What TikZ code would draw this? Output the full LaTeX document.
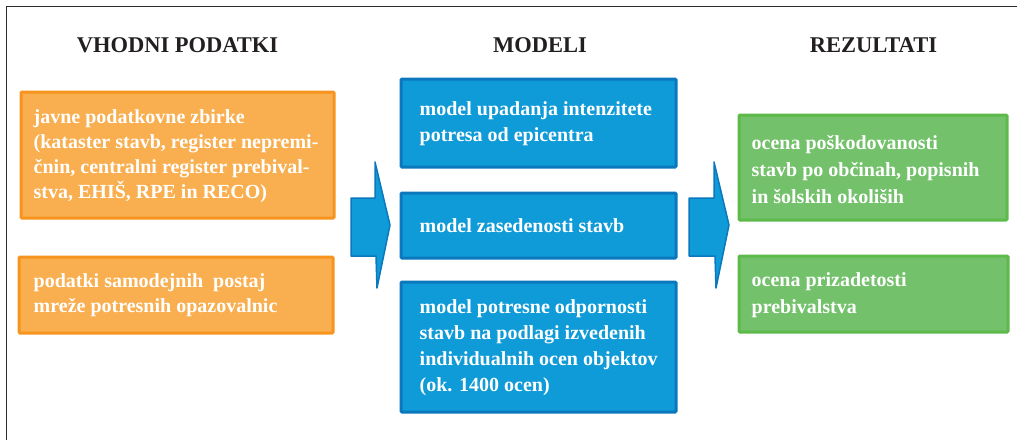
\documentclass[tikz,border=0pt]{standalone}
\usepackage{fontspec}
\setmainfont{Liberation Serif}
\definecolor{ofill}{HTML}{F9AF4F}
\definecolor{oline}{HTML}{F7941E}
\definecolor{bfill}{HTML}{0F9BD7}
\definecolor{bline}{HTML}{0B77BD}
\definecolor{gfill}{HTML}{73C16B}
\definecolor{gline}{HTML}{5DBA4A}
\definecolor{headc}{HTML}{231F20}
\definecolor{framec}{HTML}{2B2B2B}
\begin{document}
\begin{tikzpicture}[x=1pt,y=-1pt,
  boxbase/.style={rectangle, line width=3pt, rounded corners=1pt, inner sep=0pt},
  obox/.style={boxbase, draw=oline, fill=ofill},
  bbox/.style={boxbase, draw=bline, fill=bfill},
  gbox/.style={boxbase, draw=gline, fill=gfill},
  btext/.style={anchor=west, align=left, text=white, inner sep=0pt,
     font=\fontsize{20}{25}\selectfont\bfseries},
  otext/.style={btext, font=\fontsize{20}{25}\selectfont\bfseries},
  mtext/.style={btext, font=\fontsize{20}{26}\selectfont\bfseries},
  rtext/.style={btext, font=\fontsize{20}{26.8}\selectfont\bfseries},
  head/.style={font=\fontsize{22.5}{27}\selectfont\bfseries, text=headc, inner sep=0pt},
  barrow/.style={fill=bfill, draw=bline, line width=1.5pt, line join=round}]
\useasboundingbox (0,0) rectangle (1017,440);
\draw[framec, line width=1.3pt] (6.5,440) -- (6.5,6.5) -- (1017,6.5);
% headings
\node[head] (h1) at (177.5,45) {VHODNI PODATKI};
\node[head] (h2) at (540,45) {MODELI};
\node[head] (h3) at (873.5,45) {REZULTATI};
% inputs
\node[obox, minimum width=313pt, minimum height=126pt] (in1) at (177.5,155) {};
\node[otext] (in1t) at ([xshift=14pt,yshift=-1pt]in1.west)
 {javne podatkovne zbirke\\(kataster stavb, register nepremi-\\čnin, centralni register prebival-\\stva, EHIŠ, RPE in RECO)};
\node[obox, minimum width=314pt, minimum height=76pt] (in2) at (176,295) {};
\node[otext] (in2t) at ([xshift=16pt,yshift=0pt]in2.west)
 {podatki samodejnih\ \ postaj\\mreže potresnih opazovalnic};
% models
\node[bbox, minimum width=275pt, minimum height=88pt] (m1) at (538.5,123) {};
\node[mtext] (m1t) at ([xshift=20pt,yshift=-1pt]m1.west)
 {model upadanja intenzitete\\potresa od epicentra};
\node[bbox, minimum width=275pt, minimum height=65pt] (m2) at (538.5,225.5) {};
\node[mtext] (m2t) at ([xshift=20pt]m2.west) {model zasedenosti stavb};
\node[bbox, minimum width=275pt, minimum height=130pt] (m3) at (538.5,347) {};
\node[mtext] (m3t) at ([xshift=20pt,yshift=-1pt]m3.west)
 {model potresne odpornosti\\stavb na podlagi izvedenih\\individualnih ocen objektov\\(ok. 1400 ocen)};
% results
\node[gbox, minimum width=268pt, minimum height=105pt] (r1) at (873,167.5) {};
\node[rtext] (r1t) at ([xshift=14pt,yshift=-2pt]r1.west)
 {ocena poškodovanosti\\stavb po občinah, popisnih\\in šolskih okoliših};
\node[gbox, minimum width=269pt, minimum height=76pt] (r2) at (873.5,294) {};
\node[rtext] (r2t) at ([xshift=14pt,yshift=-1pt]r2.west)
 {ocena prizadetosti\\prebivalstva};
% block arrows
\coordinate (a1) at (351,225);
\coordinate (a2) at (689,225);
\draw[barrow] (a1) ++(0,-27) -- ++(24,0) -- ++(0,-36) -- (390,225) -- (377,288) -- (376,256) -- (351,256) -- cycle;
\draw[barrow] (a2) ++(0,-27) -- ++(25,0) -- ++(0,-36) -- (729,225) -- (716,288) -- (715,256) -- (689,256) -- cycle;
\end{tikzpicture}
\end{document}
